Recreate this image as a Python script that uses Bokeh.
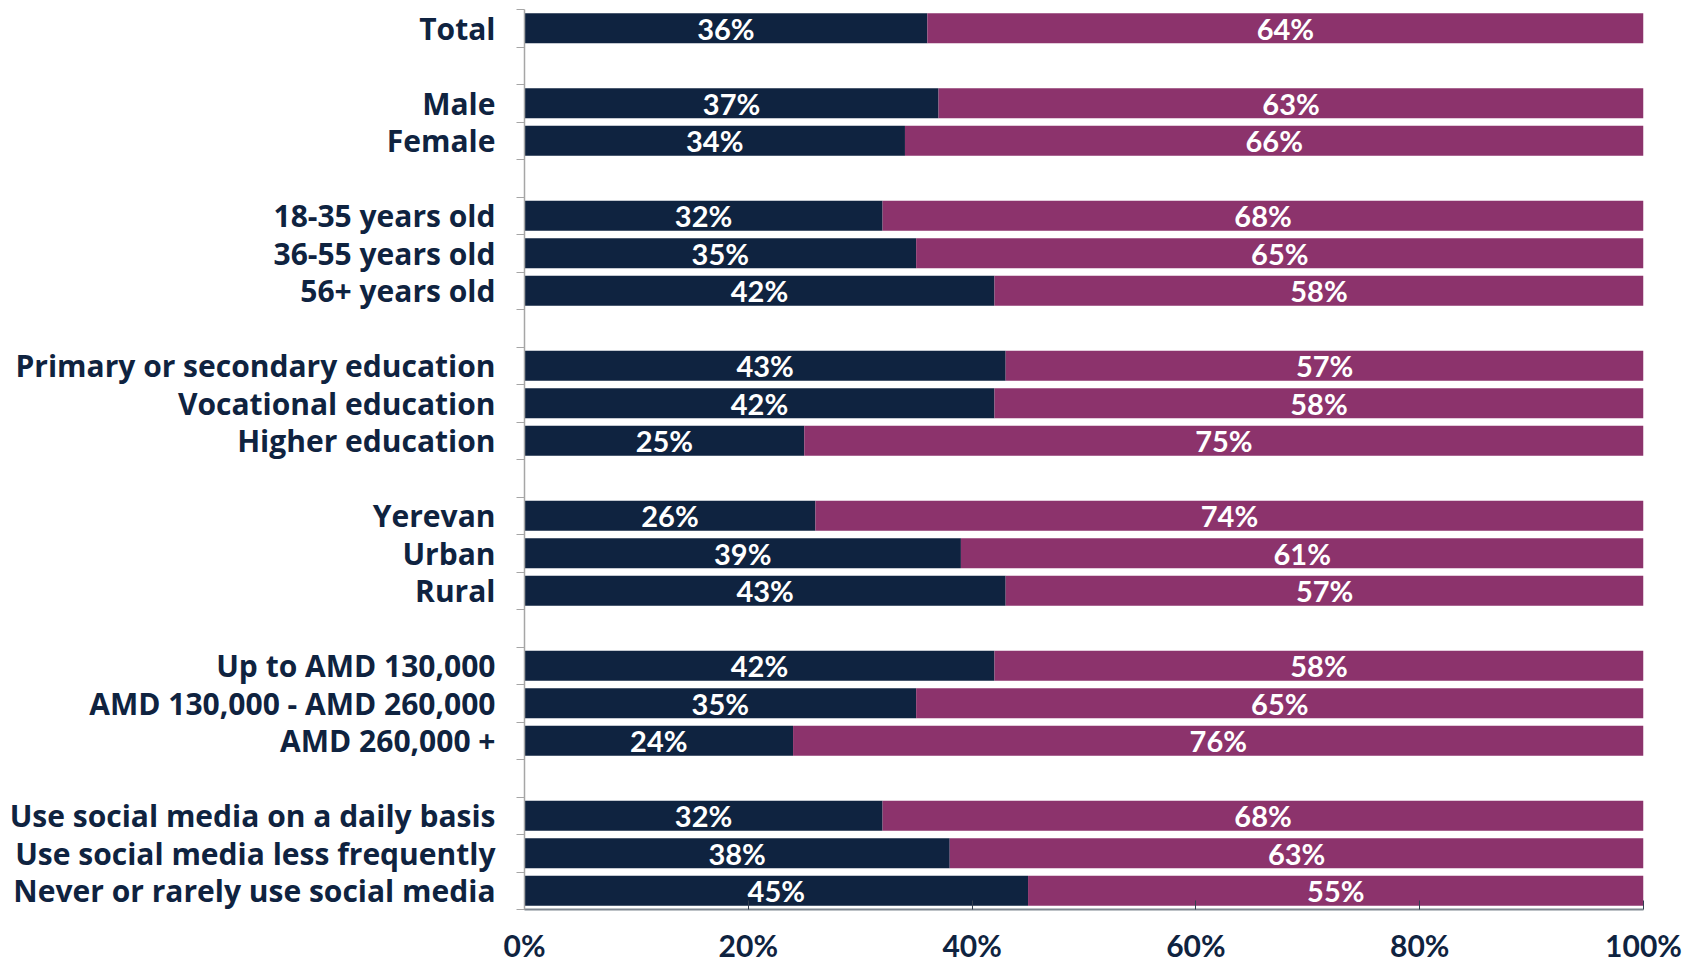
from bokeh.plotting import figure
from bokeh.models import Range1d, FixedTicker, ColumnDataSource
from bokeh.core.properties import value
from bokeh.embed import file_html
from bokeh.resources import INLINE

categories = [
    "Total",
    "Male", "Female",
    "18-35 years old", "36-55 years old", "56+ years old",
    "Primary or secondary education", "Vocational education", "Higher education",
    "Yerevan", "Urban", "Rural",
    "Up to AMD 130,000", "AMD 130,000 - AMD 260,000", "AMD 260,000 +",
    "Use social media on a daily basis", "Use social media less frequently",
    "Never or rarely use social media",
]
group_sizes = [1, 2, 3, 3, 3, 3, 3]
share_navy = [36, 37, 34, 32, 35, 42, 43, 42, 25, 26, 39, 43, 42, 35, 24, 32, 38, 45]
share_magenta = [64, 63, 66, 68, 65, 58, 57, 58, 75, 74, 61, 57, 58, 65, 76, 68, 63, 55]
x_ticks = [0, 20, 40, 60, 80, 100]

NAVY = "#0F2340"
MAGENTA = "#8C336C"
TEXT = "#0F2340"
NUM_FONT = "Lato"
CAT_FONT = "Open Sans"

# slot positions (blank slot between groups)
centers = []
slot = 0
for gi, n in enumerate(group_sizes):
    for _ in range(n):
        centers.append(slot + 0.5)
        slot += 1
    if gi < len(group_sizes) - 1:
        slot += 1
n_slots = slot

rights = [min(100, a + b) for a, b in zip(share_navy, share_magenta)]
src = ColumnDataSource(dict(
    y=centers,
    navy=share_navy,
    right=rights,
    navy_mid=[a / 2 for a in share_navy],
    mag_mid=[(a + r) / 2 for a, r in zip(share_navy, rights)],
    navy_lab=[f"{a}%" for a in share_navy],
    mag_lab=[f"{b}%" for b in share_magenta],
))

p = figure(width=1685, height=965, output_backend="svg", toolbar_location=None,
           x_range=Range1d(0, 100), y_range=Range1d(n_slots, 0),
           min_border_left=524, min_border_right=42, min_border_top=9, min_border_bottom=55)
p.outline_line_color = None
p.xgrid.visible = False
p.ygrid.visible = False
p.background_fill_color = "white"

p.hbar(y="y", left=0, right="navy", height=0.8, source=src, fill_color=NAVY, line_color=None)
p.hbar(y="y", left="navy", right="right", height=0.8, source=src, fill_color=MAGENTA, line_color=None)

p.text(x="navy_mid", y="y", text="navy_lab", source=src, text_align="center", text_baseline="middle",
       text_color="white", text_font=value(NUM_FONT), text_font_style="bold", text_font_size="29px")
p.text(x="mag_mid", y="y", text="mag_lab", source=src, text_align="center", text_baseline="middle",
       text_color="white", text_font=value(NUM_FONT), text_font_style="bold", text_font_size="29px")

# y axis
ya = p.yaxis[0]
ya.ticker = FixedTicker(ticks=centers, minor_ticks=list(range(n_slots + 1)))
ya.major_label_overrides = {c: lab for c, lab in zip(centers, categories)}
ya.major_tick_line_color = None
ya.major_tick_out = 0
ya.major_tick_in = 0
ya.minor_tick_out = 8
ya.minor_tick_in = 0
ya.minor_tick_line_color = "#A6A6A6"
ya.axis_line_color = "#A6A6A6"
ya.axis_line_width = 1.5
ya.major_label_standoff = 21
ya.major_label_text_font = CAT_FONT
ya.major_label_text_font_style = "bold"
ya.major_label_text_font_size = "30px"
ya.major_label_text_color = TEXT

# x axis
xa = p.xaxis[0]
xa.ticker = FixedTicker(ticks=x_ticks, minor_ticks=[])
xa.major_label_overrides = {t: f"{t}%" for t in x_ticks}
xa.major_tick_in = 9
xa.major_tick_out = 0
xa.major_tick_line_color = "#333F50"
xa.axis_line_color = "#7F8790"
xa.axis_line_width = 2
xa.major_label_standoff = 17
xa.major_label_text_font = NUM_FONT
xa.major_label_text_font_style = "bold"
xa.major_label_text_font_size = "30px"
xa.major_label_text_color = TEXT

open("out.html", "w").write(file_html(p, INLINE))
